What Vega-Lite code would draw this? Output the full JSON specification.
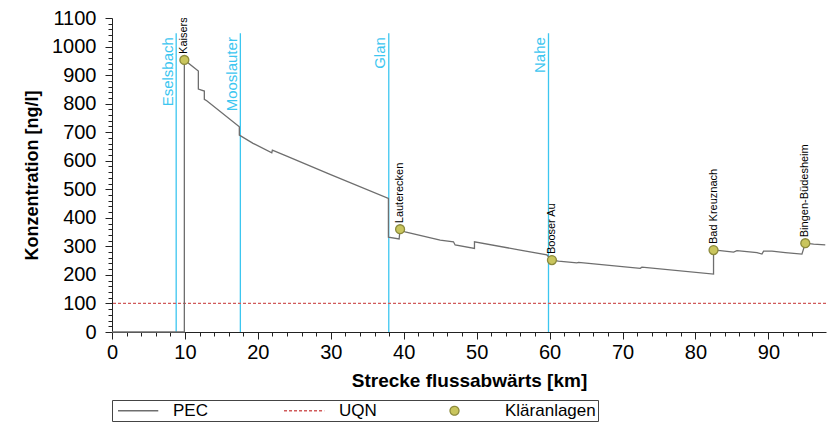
{
  "$schema": "https://vega.github.io/schema/vega-lite/v6.json",
  "width": 714,
  "height": 314,
  "autosize": {"type": "none"},
  "padding": {"left": 112, "top": 18, "right": 4, "bottom": 92},
  "background": "white",
  "config": {
    "view": {"stroke": null},
    "font": "Liberation Sans",
    "text": {"font": "Liberation Sans"}
  },
  "datasets": {
    "pec": [
      {"km": 0, "c": 0}, {"km": 9.92, "c": 0}, {"km": 9.92, "c": 953}, {"km": 11.84, "c": 914},
      {"km": 11.84, "c": 851}, {"km": 12.66, "c": 844}, {"km": 12.66, "c": 815}, {"km": 12.99, "c": 810},
      {"km": 17.46, "c": 719}, {"km": 17.46, "c": 690}, {"km": 19.34, "c": 661}, {"km": 21.91, "c": 628},
      {"km": 21.99, "c": 637}, {"km": 23.96, "c": 616}, {"km": 29.9, "c": 552}, {"km": 37.9, "c": 468},
      {"km": 37.9, "c": 332}, {"km": 39.37, "c": 326}, {"km": 39.5, "c": 360}, {"km": 40.19, "c": 351},
      {"km": 45.0, "c": 322}, {"km": 46.82, "c": 316}, {"km": 47.05, "c": 305}, {"km": 49.7, "c": 293},
      {"km": 49.7, "c": 316}, {"km": 55.97, "c": 287}, {"km": 59.63, "c": 270}, {"km": 60.32, "c": 252},
      {"km": 61.22, "c": 248}, {"km": 63.74, "c": 242}, {"km": 63.96, "c": 244}, {"km": 72.43, "c": 223},
      {"km": 72.66, "c": 227}, {"km": 82.48, "c": 203}, {"km": 82.48, "c": 287}, {"km": 83.4, "c": 285},
      {"km": 85.23, "c": 280}, {"km": 85.69, "c": 285}, {"km": 88.44, "c": 278}, {"km": 89.12, "c": 273},
      {"km": 89.34, "c": 283}, {"km": 90.49, "c": 283}, {"km": 92.32, "c": 278}, {"km": 94.6, "c": 273},
      {"km": 95.06, "c": 311}, {"km": 96.2, "c": 308}, {"km": 97.8, "c": 305}
    ],
    "kl": [
      {"name": "Kaiserslautern", "km": 9.92, "c": 953},
      {"name": "Lauterecken", "km": 39.5, "c": 360},
      {"name": "Booser Au", "km": 60.32, "c": 252},
      {"name": "Bad Kreuznach", "km": 82.48, "c": 287},
      {"name": "Bingen-Büdesheim", "km": 95.06, "c": 311}
    ],
    "trib": [
      {"name": "Eselsbach", "km": 8.8},
      {"name": "Mooslauter", "km": 17.6},
      {"name": "Glan", "km": 37.95},
      {"name": "Nahe", "km": 59.85}
    ],
    "uqn": [{"c": 100}]
  },
  "resolve": {"axis": {"x": "independent", "y": "independent"}},
  "layer": [
    {
      "data": {"name": "trib"},
      "mark": {"type": "rule", "color": "#3cc6f0", "strokeWidth": 1.3},
      "encoding": {
        "x": {
          "field": "km", "type": "quantitative",
          "scale": {"domain": [0, 97.9], "nice": false, "zero": false},
          "axis": {
            "orient": "bottom",
            "values": [0,2,4,6,8,10,12,14,16,18,20,22,24,26,28,30,32,34,36,38,40,42,44,46,48,50,52,54,56,58,60,62,64,66,68,70,72,74,76,78,80,82,84,86,88,90,92,94,96],
            "format": "d",
            "labelExpr": "datum.value % 10 === 0 ? datum.label : ''",
            "tickSize": {"condition": {"test": "datum.value % 10 === 0", "value": 7}, "value": 4},
            "tickWidth": 1,
            "grid": false, "labelFontSize": 20, "labelPadding": 3, "labelFlush": false, "labelOverlap": false, "labelBound": false,
            "labelFont": "Liberation Sans", "labelColor": "#000",
            "domainColor": "#222", "tickColor": "#222",
            "title": "Strecke flussabwärts [km]", "titleFont": "Liberation Sans", "titleFontSize": 19, "titleFontWeight": "bold", "titleColor": "#000", "titlePadding": 9
          }
        },
        "y": {
          "datum": 1047, "type": "quantitative",
          "scale": {"domain": [0, 1100], "nice": false},
          "axis": {
            "orient": "left",
            "values": [0,20,40,60,80,100,120,140,160,180,200,220,240,260,280,300,320,340,360,380,400,420,440,460,480,500,520,540,560,580,600,620,640,660,680,700,720,740,760,780,800,820,840,860,880,900,920,940,960,980,1000,1020,1040,1060,1080,1100],
            "format": "d",
            "labelExpr": "datum.value % 100 === 0 ? datum.label : ''",
            "tickSize": {"condition": {"test": "datum.value % 100 === 0", "value": 7}, "value": 4},
            "tickWidth": 1,
            "grid": false, "labelFontSize": 20, "labelPadding": 9, "labelFlush": false, "labelOverlap": false, "labelBound": false,
            "labelFont": "Liberation Sans", "labelColor": "#000",
            "domainColor": "#222", "tickColor": "#222",
            "title": "Konzentration [ng/l]", "titleFont": "Liberation Sans", "titleFontSize": 18, "titleFontWeight": "bold", "titleColor": "#000", "titlePadding": 10
          }
        },
        "y2": {"datum": 0}
      }
    },
    {
      "data": {"name": "trib"},
      "mark": {"type": "text", "angle": 270, "align": "right", "baseline": "alphabetic", "dy": -3.5, "fontSize": 15, "color": "#3cc6f0", "font": "Liberation Sans"},
      "encoding": {
        "x": {"field": "km", "type": "quantitative", "axis": null},
        "y": {"datum": 1033, "type": "quantitative", "axis": null},
        "text": {"field": "name"}
      }
    },
    {
      "data": {"name": "uqn"},
      "mark": {"type": "rule", "strokeWidth": 1.3},
      "encoding": {
        "y": {"field": "c", "type": "quantitative", "axis": null},
        "stroke": {"datum": "UQN", "type": "nominal"},
        "strokeDash": {
          "datum": "UQN", "type": "nominal",
          "scale": {"domain": ["PEC", "UQN", "Kläranlagen"], "range": [[1, 0], [3, 2], [1, 0]]},
          "legend": {"orient": "none", "legendX": 0, "legendY": 382, "direction": "horizontal", "title": null, "columns": 3, "gridAlign": "all", "columnPadding": 16, "labelOffset": 42, "labelFontSize": 17, "labelFont": "Liberation Sans", "labelColor": "#000", "strokeColor": "#444", "padding": 2, "symbolSize": 80, "symbolStrokeWidth": 1.3, "symbolFillColor": "#c9c55d"}
        }
      }
    },
    {
      "data": {"name": "pec"},
      "mark": {"type": "line", "strokeWidth": 1.3},
      "encoding": {
        "x": {"field": "km", "type": "quantitative", "axis": null},
        "y": {"field": "c", "type": "quantitative", "axis": null},
        "order": {"value": null},
        "stroke": {
          "datum": "PEC", "type": "nominal",
          "scale": {"domain": ["PEC", "UQN", "Kläranlagen"], "range": ["#6e6e6e", "#d05a5a", "#8c8a3c"]},
          "legend": {"orient": "none", "legendX": 0, "legendY": 382, "direction": "horizontal", "title": null, "columns": 3, "gridAlign": "all", "columnPadding": 16, "labelOffset": 42, "labelFontSize": 17, "labelFont": "Liberation Sans", "labelColor": "#000", "strokeColor": "#444", "padding": 2, "symbolSize": 80, "symbolStrokeWidth": 1.3, "symbolFillColor": "#c9c55d"}
        }
      }
    },
    {
      "data": {"name": "kl"},
      "mark": {"type": "point", "filled": false, "fill": "#c9c55d", "fillOpacity": 1, "opacity": 1, "size": 80, "strokeWidth": 1.3},
      "encoding": {
        "x": {"field": "km", "type": "quantitative", "axis": null},
        "y": {"field": "c", "type": "quantitative", "axis": null},
        "stroke": {"datum": "Kläranlagen", "type": "nominal"},
        "shape": {
          "datum": "Kläranlagen", "type": "nominal",
          "scale": {"domain": ["PEC", "UQN", "Kläranlagen"], "range": ["M-1,0H8", "M-1,0H8", "circle"]},
          "legend": {"orient": "none", "legendX": 0, "legendY": 382, "direction": "horizontal", "title": null, "columns": 3, "gridAlign": "all", "columnPadding": 16, "labelOffset": 42, "labelFontSize": 17, "labelFont": "Liberation Sans", "labelColor": "#000", "strokeColor": "#444", "padding": 2, "symbolSize": 80, "symbolStrokeWidth": 1.3, "symbolFillColor": "#c9c55d"}
        }
      }
    },
    {
      "data": {"name": "kl"},
      "mark": {"type": "text", "angle": 270, "align": "left", "baseline": "middle", "dx": 6, "fontSize": 11, "color": "#000", "clip": true, "font": "Liberation Sans"},
      "encoding": {
        "x": {"field": "km", "type": "quantitative", "axis": null},
        "y": {"field": "c", "type": "quantitative", "axis": null},
        "text": {"field": "name"}
      }
    }
  ]
}
